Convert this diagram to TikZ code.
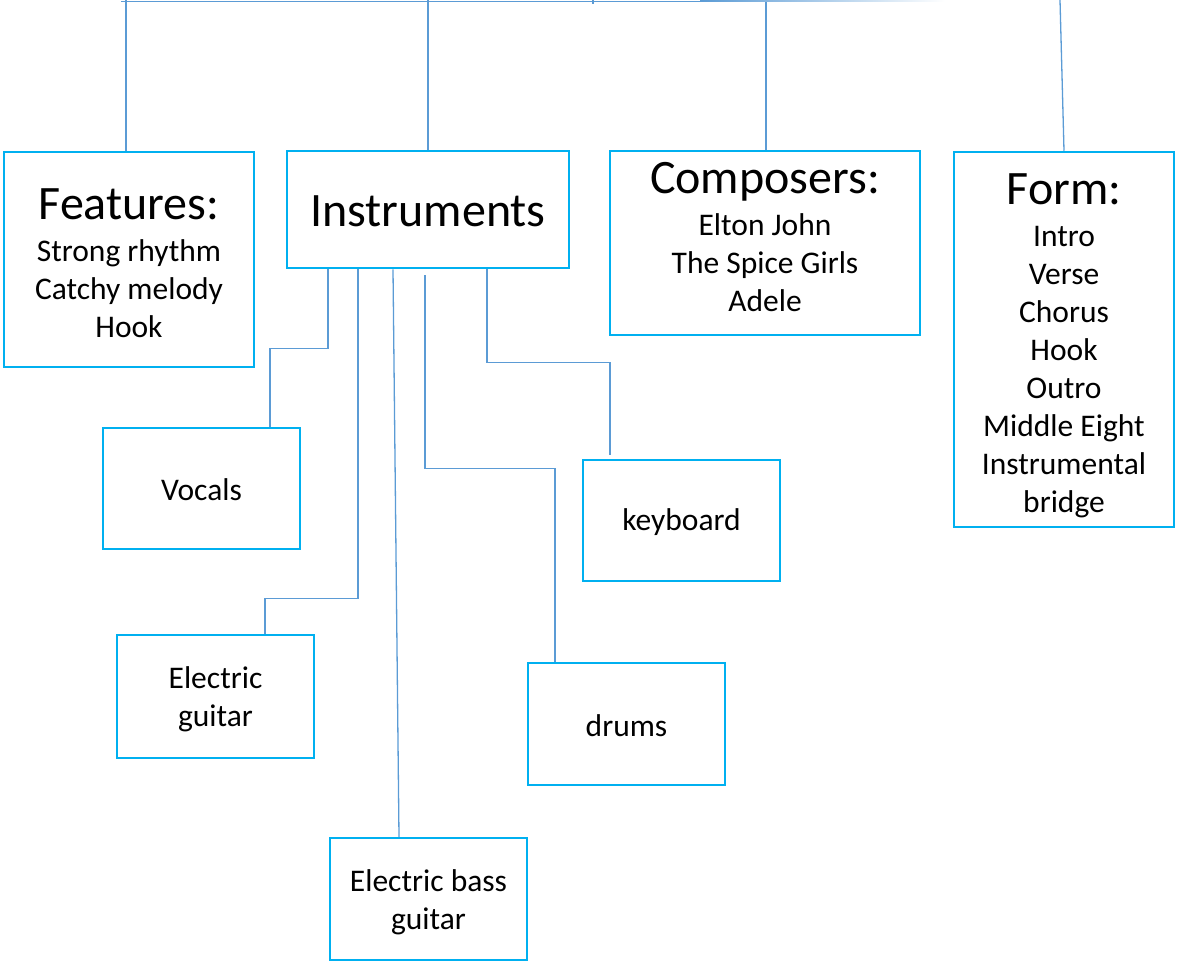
\documentclass[tikz,border=0pt]{standalone}
\usepackage{fontspec}
\setmainfont{Carlito}
\definecolor{boxblue}{HTML}{00B0F0}
\definecolor{lineblue}{HTML}{5B9BD5}
\newcommand{\bigtxt}{\fontsize{48}{56}\selectfont}
\begin{document}
\begin{tikzpicture}[x=1pt,y=-1pt,
  box/.style={draw=boxblue,line width=2.5pt,rectangle,inner sep=0pt},
  txt/.style={inner sep=0pt,align=center,font=\fontsize{31.5}{38}\selectfont},
  conn/.style={draw=lineblue,line width=1.3pt}]
\useasboundingbox (0,0) rectangle (1178,962);
% boxes
\node[box,minimum width=250pt,minimum height=215pt] (feat) at (129,259.5) {};
\node[box,minimum width=282pt,minimum height=117pt] (instr) at (428,209.5) {};
\node[box,minimum width=310pt,minimum height=184pt] (comp) at (765,243) {};
\node[box,minimum width=220pt,minimum height=375pt] (form) at (1064,339.5) {};
\node[box,minimum width=197pt,minimum height=121pt] (vocals) at (201.5,488.5) {};
\node[box,minimum width=197pt,minimum height=121pt] (keyb) at (681.5,520.5) {};
\node[box,minimum width=197pt,minimum height=123pt] (eguitar) at (215.5,696.5) {};
\node[box,minimum width=197pt,minimum height=122pt] (drums) at (626.5,724) {};
\node[box,minimum width=197pt,minimum height=122pt] (bass) at (428.5,899) {};
% texts
\node[txt] (featT) at ([yshift=-4pt]feat.center)
  {{\bigtxt Features:}\\[4pt]Strong rhythm\\Catchy melody\\Hook};
\node[txt] (instrT) at ([yshift=-2pt]instr.center) {\bigtxt Instruments};
\node[txt] (compT) at ([yshift=6pt]comp.center)
  {{\bigtxt Composers:}\\[4pt]Elton John\\The Spice Girls\\Adele};
\node[txt] (formT) at ([yshift=-6pt]form.center)
  {{\bigtxt Form:}\\[4pt]Intro\\Verse\\Chorus\\Hook\\Outro\\Middle Eight\\Instrumental\\bridge};
\node[txt] (vocalsT) at ([yshift=-1pt]vocals.center) {Vocals};
\node[txt] (keybT) at ([yshift=-2pt]keyb.center) {keyboard};
\node[txt] (eguitarT) at ([yshift=-3pt]eguitar.center) {Electric\\guitar};
\node[txt] (drumsT) at ([yshift=-2pt]drums.center) {drums};
\node[txt] (bassT) at ([yshift=-3pt]bass.center) {Electric bass\\guitar};
% top bar
\coordinate (barL) at (121,1.3);
\coordinate (barM) at (700,1.3);
\coordinate (tick) at (593,0);
\coordinate (ft) at (126,0);
\coordinate (it) at (428,0);
\coordinate (ct) at (766,2);
\coordinate (fmt) at (1060,0);
\draw[conn] (barL) -- (barM);
\shade[left color=lineblue,right color=white] (700,0.7) rectangle (945,1.9);
\draw[conn] (tick) -- ++(0,4);
\draw[conn] ([xshift=-3pt]feat.north) -- (ft);
\draw[conn] (instr.north) -- (it);
\draw[conn] ([xshift=1pt]comp.north) -- (ct);
\draw[conn] (form.north) -- (fmt);
% instrument connectors
\draw[conn] ([xshift=-100pt]instr.south) -- ++(0,79) -| ([xshift=68.5pt]vocals.north);
\draw[conn] ([xshift=-70pt]instr.south) -- ++(0,329) -| ([xshift=49.5pt]eguitar.north);
\draw[conn] ([xshift=-35pt]instr.south) -- ([xshift=-29.5pt]bass.north);
\draw[conn] ([xshift=-3pt,yshift=-6pt]instr.south) -- ++(0,193) -| ([xshift=-71.5pt]drums.north);
\draw[conn] ([xshift=59pt]instr.south) -- ++(0,93) -| ([xshift=-71.5pt,yshift=4pt]keyb.north);
\end{tikzpicture}
\end{document}
